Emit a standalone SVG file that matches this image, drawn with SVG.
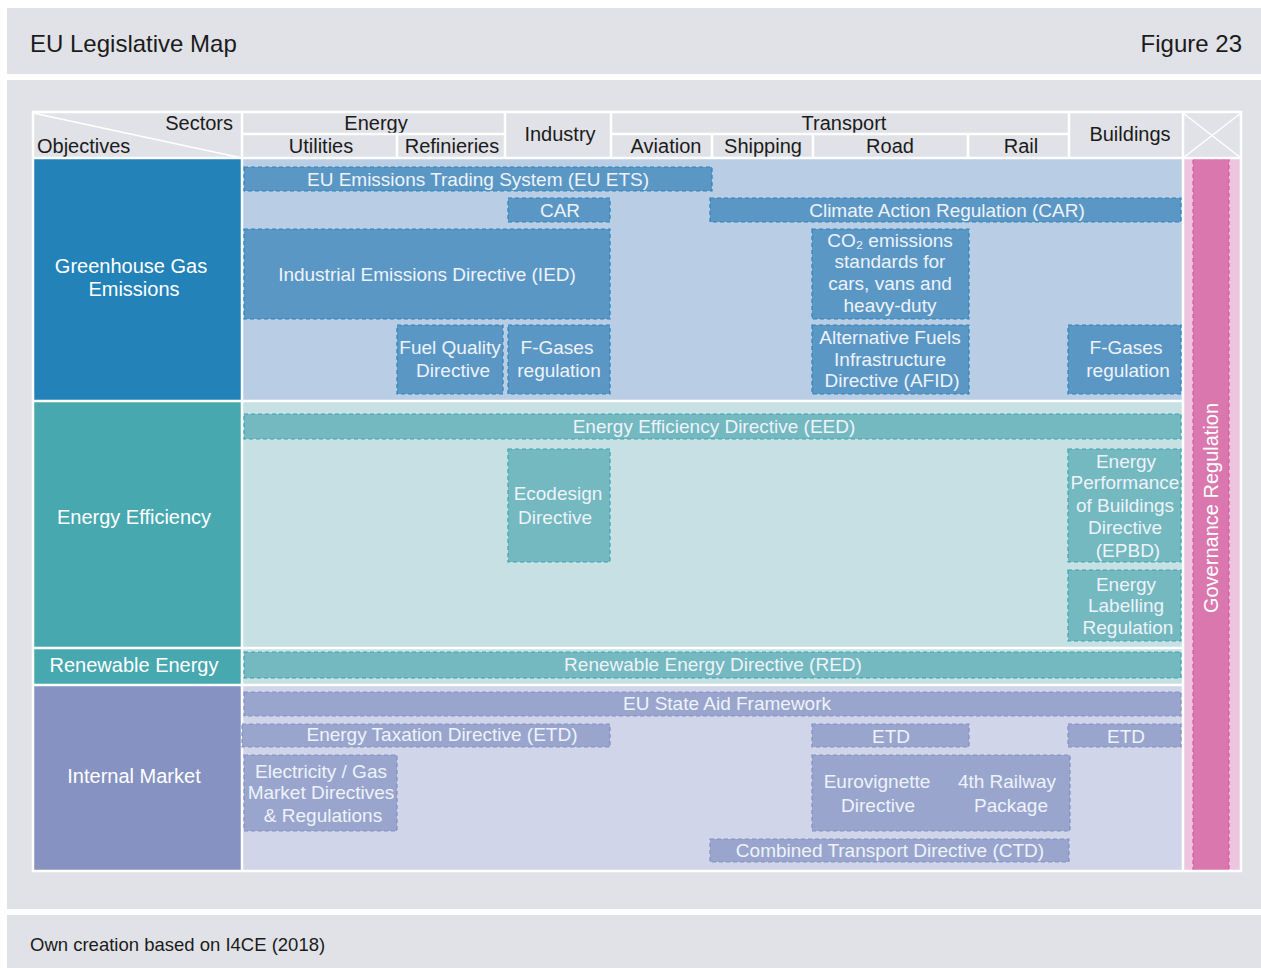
<svg xmlns="http://www.w3.org/2000/svg" width="1261" height="968" viewBox="0 0 1261 968">
<style>
text{font-family:"Liberation Sans",Arial,sans-serif;}
.hd{font-size:20px;fill:#1b1b1b;}
.ttl{font-size:24px;fill:#1b1b1b;}
.bt{font-size:19px;fill:#eef3fa;text-anchor:middle;dominant-baseline:central;}
.lt{font-size:20px;fill:#ffffff;text-anchor:middle;dominant-baseline:central;}
.bb{fill:#5b97c5;stroke:#2e83ba;stroke-width:1.2;stroke-dasharray:4 3;}
.tb{fill:#74b8c0;stroke:#3aa4ad;stroke-width:1.2;stroke-dasharray:4 3;}
.pb{fill:#99a5cd;stroke:#8390c4;stroke-width:1.2;stroke-dasharray:4 3;}
.gl{stroke:#ffffff;stroke-width:2.5;fill:none;}
</style>
<rect x="0" y="0" width="1261" height="968" fill="#ffffff"/>
<rect x="7" y="8" width="1254" height="66" fill="#e1e2e7"/>
<rect x="7" y="80" width="1254" height="829" fill="#e1e2e7"/>
<rect x="7" y="915" width="1254" height="53" fill="#e1e2e7"/>
<text class="ttl" x="30" y="52">EU Legislative Map</text>
<text class="ttl" x="1242" y="52" text-anchor="end">Figure 23</text>
<text x="30" y="951" font-size="18.5" fill="#1b1b1b">Own creation based on I4CE (2018)</text>

<!-- row backgrounds -->
<g id="row-ghg">
<rect x="34" y="159" width="208" height="241" fill="#2383b8"/>
<rect x="242" y="159" width="941" height="241" fill="#b9cde5"/>
<text class="lt" x="131" y="266">Greenhouse Gas</text>
<text class="lt" x="134" y="289">Emissions</text>
</g>
<g id="row-ee">
<rect x="34" y="401" width="208" height="246" fill="#47a8b0"/>
<rect x="242" y="401" width="941" height="246" fill="#c6e0e4"/>
<text class="lt" x="134" y="517">Energy Efficiency</text>
</g>
<g id="row-re">
<rect x="34" y="648" width="208" height="36" fill="#47a8b0"/>
<rect x="242" y="648" width="941" height="36" fill="#c6e0e4"/>
<text class="lt" x="134" y="665">Renewable Energy</text>
</g>
<g id="row-im">
<rect x="34" y="685" width="208" height="185" fill="#8592c2"/>
<rect x="242" y="685" width="941" height="185" fill="#d0d5e9"/>
<text class="lt" x="134" y="776">Internal Market</text>
</g>
<g id="governance">
<rect x="1183" y="159" width="58" height="711" fill="#eec5df"/>
<rect x="1193" y="159" width="36" height="712" fill="#d977ae" stroke="#d85a9e" stroke-width="1.2" stroke-dasharray="4 3"/>
<text class="lt" transform="translate(1211,508) rotate(-90)">Governance Regulation</text>
</g>

<!-- header -->
<g id="header">
<text class="hd" x="233" y="130" text-anchor="end">Sectors</text>
<text class="hd" x="37" y="153">Objectives</text>
<text class="hd" x="376" y="130" text-anchor="middle">Energy</text>
<text class="hd" x="321" y="153" text-anchor="middle">Utilities</text>
<text class="hd" x="452" y="153" text-anchor="middle">Refinieries</text>
<text class="hd" x="560" y="141" text-anchor="middle">Industry</text>
<text class="hd" x="844" y="130" text-anchor="middle">Transport</text>
<text class="hd" x="666" y="153" text-anchor="middle">Aviation</text>
<text class="hd" x="763" y="153" text-anchor="middle">Shipping</text>
<text class="hd" x="890" y="153" text-anchor="middle">Road</text>
<text class="hd" x="1021" y="153" text-anchor="middle">Rail</text>
<text class="hd" x="1130" y="141" text-anchor="middle">Buildings</text>
</g>

<!-- grid lines -->
<g id="grid">
<rect class="gl" x="33" y="112" width="1208" height="759"/>
<line class="gl" x1="33" y1="158" x2="1241" y2="158"/>
<line class="gl" x1="242" y1="134" x2="505" y2="134"/>
<line class="gl" x1="611" y1="134" x2="1069" y2="134"/>
<line class="gl" x1="242" y1="112" x2="242" y2="871"/>
<line class="gl" x1="397" y1="134" x2="397" y2="158"/>
<line class="gl" x1="505" y1="112" x2="505" y2="158"/>
<line class="gl" x1="611" y1="112" x2="611" y2="158"/>
<line class="gl" x1="712" y1="134" x2="712" y2="158"/>
<line class="gl" x1="813" y1="134" x2="813" y2="158"/>
<line class="gl" x1="968" y1="134" x2="968" y2="158"/>
<line class="gl" x1="1069" y1="112" x2="1069" y2="158"/>
<line class="gl" x1="1183" y1="112" x2="1183" y2="871"/>
<line class="gl" x1="33" y1="401" x2="1183" y2="401"/>
<line class="gl" x1="33" y1="648" x2="1183" y2="648"/>
<line class="gl" x1="33" y1="685" x2="1183" y2="685"/>
<line x1="33" y1="113" x2="242" y2="158" stroke="#ffffff" stroke-width="1.5"/>
<line x1="1183" y1="113" x2="1241" y2="158" stroke="#ffffff" stroke-width="1.5"/>
<line x1="1241" y1="113" x2="1183" y2="158" stroke="#ffffff" stroke-width="1.5"/>
</g>

<!-- GHG boxes -->
<g id="eu-ets"><rect class="bb" x="244" y="167" width="468" height="24"/><text class="bt" x="478" y="179">EU Emissions Trading System (EU ETS)</text></g>
<g id="car-small"><rect class="bb" x="508" y="198" width="102" height="24"/><text class="bt" x="560" y="210">CAR</text></g>
<g id="car"><rect class="bb" x="710" y="198" width="471" height="24"/><text class="bt" x="947" y="210">Climate Action Regulation (CAR)</text></g>
<g id="ied"><rect class="bb" x="244" y="229" width="366" height="90"/><text class="bt" x="427" y="274">Industrial Emissions Directive (IED)</text></g>
<g id="co2"><rect class="bb" x="812" y="229" width="157" height="90"/>
<text class="bt" x="890" y="240">CO₂ emissions</text><text class="bt" x="890" y="261">standards for</text><text class="bt" x="890" y="283">cars, vans and</text><text class="bt" x="890" y="305">heavy-duty</text></g>
<g id="fqd"><rect class="bb" x="397" y="325" width="106" height="69"/><text class="bt" x="450" y="347">Fuel Quality</text><text class="bt" x="453" y="370">Directive</text></g>
<g id="fgas-ind"><rect class="bb" x="508" y="325" width="102" height="69"/><text class="bt" x="557" y="347">F-Gases</text><text class="bt" x="559" y="370">regulation</text></g>
<g id="afid"><rect class="bb" x="812" y="325" width="157" height="69"/><text class="bt" x="890" y="337">Alternative Fuels</text><text class="bt" x="890" y="359">Infrastructure</text><text class="bt" x="892" y="380">Directive (AFID)</text></g>
<g id="fgas-bld"><rect class="bb" x="1068" y="325" width="113" height="69"/><text class="bt" x="1126" y="347">F-Gases</text><text class="bt" x="1128" y="370">regulation</text></g>

<!-- EE boxes -->
<g id="eed"><rect class="tb" x="244" y="414" width="937" height="25"/><text class="bt" x="714" y="426">Energy Efficiency Directive (EED)</text></g>
<g id="ecodesign"><rect class="tb" x="508" y="449" width="102" height="113"/><text class="bt" x="558" y="493">Ecodesign</text><text class="bt" x="555" y="517">Directive</text></g>
<g id="epbd"><rect class="tb" x="1068" y="449" width="113" height="113"/>
<text class="bt" x="1126" y="461">Energy</text><text class="bt" x="1125" y="482">Performance</text><text class="bt" x="1125" y="505">of Buildings</text><text class="bt" x="1125" y="527">Directive</text><text class="bt" x="1128" y="550">(EPBD)</text></g>
<g id="labelling"><rect class="tb" x="1068" y="570" width="113" height="71"/>
<text class="bt" x="1126" y="584">Energy</text><text class="bt" x="1126" y="605">Labelling</text><text class="bt" x="1128" y="627">Regulation</text></g>

<!-- RE -->
<g id="red"><rect class="tb" x="244" y="652" width="937" height="26"/><text class="bt" x="713" y="664">Renewable Energy Directive (RED)</text></g>

<!-- IM boxes -->
<g id="state-aid"><rect class="pb" x="244" y="692" width="937" height="24"/><text class="bt" x="727" y="703">EU State Aid Framework</text></g>
<g id="etd-1"><rect class="pb" x="242" y="724" width="368" height="23"/><text class="bt" x="442" y="734">Energy Taxation Directive (ETD)</text></g>
<g id="etd-2"><rect class="pb" x="812" y="724" width="157" height="23"/><text class="bt" x="891" y="736">ETD</text></g>
<g id="etd-3"><rect class="pb" x="1068" y="724" width="113" height="23"/><text class="bt" x="1126" y="736">ETD</text></g>
<g id="elec-gas"><rect class="pb" x="244" y="755" width="153" height="76"/>
<text class="bt" x="321" y="771">Electricity / Gas</text><text class="bt" x="321" y="792">Market Directives</text><text class="bt" x="323" y="815">&amp; Regulations</text></g>
<g id="euro-rail"><rect class="pb" x="812" y="755" width="258" height="76"/>
<text class="bt" x="877" y="781">Eurovignette</text><text class="bt" x="878" y="805">Directive</text>
<text class="bt" x="1007" y="781">4th Railway</text><text class="bt" x="1011" y="805">Package</text></g>
<g id="ctd"><rect class="pb" x="710" y="839" width="359" height="23"/><text class="bt" x="890" y="850">Combined Transport Directive (CTD)</text></g>

<g id="connectors"></g>
</svg>
